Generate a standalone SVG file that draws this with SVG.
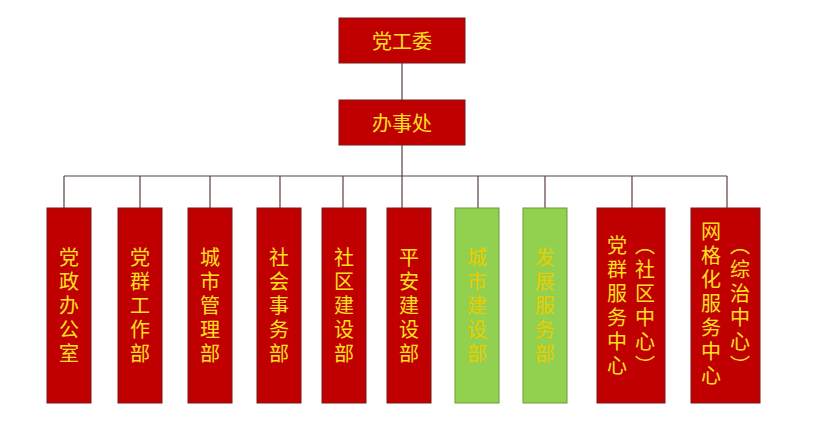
<svg xmlns="http://www.w3.org/2000/svg" width="821" height="433" viewBox="0 0 821 433">
<style>
.r{fill:#c00000;stroke:#7a1a1a;stroke-width:1}
.g{fill:#92d050;stroke:#6a9a3a;stroke-width:1}
.t{fill:#ffe020;font-family:"Noto Sans CJK SC",sans-serif;font-size:20px;text-anchor:middle}
.v{writing-mode:vertical-rl;letter-spacing:4px}
.tg{fill:#e8cc00}
.c{stroke:#5a4040;stroke-width:1.2;fill:none}
</style>
<rect width="821" height="433" fill="#fff"/>
<g id="connectors" class="c">
<path d="M402 63V100M402 145V176M64 176H727"/>
<path d="M64 176V208M140 176V208M210 176V208M280 176V208M343 176V208M402 176V208M478 176V208M545 176V208M632 176V208M727 176V208"/>
</g>
<g id="n0"><rect class="r" x="339" y="18" width="126" height="45"/><text class="t" x="402" y="49" font-size="23">党工委</text></g>
<g id="n1"><rect class="r" x="339" y="100" width="126" height="45"/><text class="t" x="402" y="131" font-size="23">办事处</text></g>
<g id="b1"><rect class="r" x="47" y="208" width="44" height="195"/><text class="t v" x="69" y="307">党政办公室</text></g>
<g id="b2"><rect class="r" x="118" y="208" width="44" height="195"/><text class="t v" x="140" y="307">党群工作部</text></g>
<g id="b3"><rect class="r" x="188" y="208" width="44" height="195"/><text class="t v" x="210" y="307">城市管理部</text></g>
<g id="b4"><rect class="r" x="257" y="208" width="44" height="195"/><text class="t v" x="279" y="307">社会事务部</text></g>
<g id="b5"><rect class="r" x="322" y="208" width="44" height="195"/><text class="t v" x="344" y="307">社区建设部</text></g>
<g id="b6"><rect class="r" x="387" y="208" width="44" height="195"/><text class="t v" x="409" y="307">平安建设部</text></g>
<g id="b7"><rect class="g" x="455" y="208" width="44" height="195"/><text class="t v tg" x="477" y="307">城市建设部</text></g>
<g id="b8"><rect class="g" x="523" y="208" width="44" height="195"/><text class="t v tg" x="545" y="307">发展服务部</text></g>
<g id="b9"><rect class="r" x="597" y="208" width="68" height="195"/><text class="t v" x="617" y="307">党群服务中心</text><text class="t v" x="645" y="307">（社区中心）</text></g>
<g id="b10"><rect class="r" x="691" y="208" width="69" height="195"/><text class="t v" x="711" y="305">网格化服务中心</text><text class="t v" x="740" y="307">（综治中心）</text></g>
</svg>
